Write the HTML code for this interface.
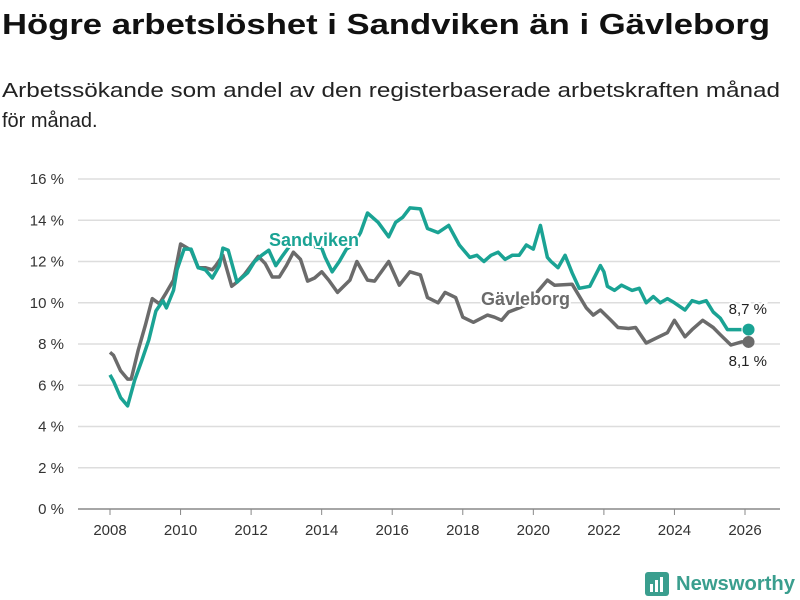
<!DOCTYPE html>
<html><head><meta charset="utf-8"><style>
body{margin:0;background:#fff;width:800px;height:600px;overflow:hidden;font-family:"Liberation Sans",sans-serif}
svg{display:block}
</style></head><body>
<svg id="chart" width="800" height="600" xmlns="http://www.w3.org/2000/svg" font-family="Liberation Sans, sans-serif">
<text x="2" y="34" font-size="29" font-weight="bold" fill="#111" textLength="768" lengthAdjust="spacingAndGlyphs">Högre arbetslöshet i Sandviken än i Gävleborg</text>
<text x="2" y="97" font-size="20" fill="#222" textLength="778" lengthAdjust="spacingAndGlyphs">Arbetssökande som andel av den registerbaserade arbetskraften månad</text>
<text x="2" y="127" font-size="20" fill="#222">för månad.</text>
<g id="grid"></g><g id="lines"></g><g id="labels"></g>
<g>
<rect x="645" y="572" width="24" height="24" rx="3" fill="#3a9e8e"/>
<rect x="650" y="584" width="3" height="8" fill="#fff"/><rect x="655" y="580" width="3" height="12" fill="#fff"/><rect x="660" y="577" width="3" height="15" fill="#fff"/>
<text x="676" y="590" font-size="20" font-weight="bold" fill="#3a9e8e" textLength="119" lengthAdjust="spacingAndGlyphs">Newsworthy</text>
</g>
</svg>
<script>
const yTicks=[0,2,4,6,8,10,12,14,16];
const xTicks=[2008,2010,2012,2014,2016,2018,2020,2022,2024,2026];
const sandDates=[2008.0,2008.1,2008.3,2008.5,2008.7,2008.9,2009.1,2009.3,2009.5,2009.6,2009.8,2009.9,2010.1,2010.3,2010.5,2010.7,2010.9,2011.1,2011.2,2011.35,2011.6,2011.9,2012.1,2012.3,2012.5,2012.7,2012.9,2013.2,2013.6,2014.0,2014.1,2014.3,2014.5,2014.7,2014.9,2015.1,2015.3,2015.6,2015.9,2016.1,2016.3,2016.5,2016.8,2017.0,2017.3,2017.6,2017.9,2018.2,2018.4,2018.6,2018.8,2019.0,2019.2,2019.4,2019.6,2019.8,2020.0,2020.2,2020.4,2020.5,2020.7,2020.9,2021.1,2021.3,2021.6,2021.9,2022.0,2022.1,2022.3,2022.5,2022.8,2023.0,2023.2,2023.4,2023.6,2023.8,2024.0,2024.3,2024.5,2024.7,2024.9,2025.1,2025.3,2025.5,2025.7,2025.9,2026.0,2026.1];
const sandValues=[6.5,6.2,5.4,5.0,6.25,7.2,8.2,9.6,10.1,9.75,10.6,11.6,12.6,12.6,11.7,11.6,11.2,11.8,12.65,12.55,11.0,11.45,12.0,12.3,12.55,11.8,12.3,13.0,12.8,12.65,12.2,11.5,12.0,12.6,12.8,13.4,14.35,13.9,13.2,13.9,14.15,14.6,14.55,13.6,13.4,13.75,12.8,12.2,12.3,12.0,12.3,12.45,12.1,12.3,12.3,12.8,12.6,13.75,12.2,12.0,11.7,12.3,11.45,10.7,10.8,11.8,11.5,10.8,10.6,10.85,10.6,10.7,10.0,10.3,10.0,10.2,10.0,9.65,10.1,10.0,10.1,9.55,9.25,8.7,8.7,8.7];
const gavDates=[2008.0,2008.1,2008.3,2008.5,2008.6,2008.8,2009.0,2009.2,2009.4,2009.6,2009.8,2010.0,2010.3,2010.5,2010.7,2010.9,2011.0,2011.2,2011.45,2011.6,2011.8,2012.0,2012.2,2012.4,2012.6,2012.8,2013.0,2013.2,2013.4,2013.6,2013.8,2014.0,2014.2,2014.45,2014.8,2015.0,2015.3,2015.5,2015.9,2016.2,2016.5,2016.8,2017.0,2017.3,2017.5,2017.8,2018.0,2018.3,2018.7,2018.9,2019.1,2019.3,2019.6,2019.8,2020.4,2020.6,2021.1,2021.5,2021.7,2021.9,2022.2,2022.4,2022.7,2022.9,2023.2,2023.5,2023.8,2024.0,2024.3,2024.5,2024.8,2025.1,2025.3,2025.6,2025.9,2026.1];
const gavValues=[7.6,7.45,6.7,6.3,6.3,7.7,8.9,10.2,9.95,10.5,11.1,12.85,12.55,11.7,11.7,11.6,11.8,12.3,10.8,11.0,11.35,11.8,12.25,11.9,11.25,11.25,11.8,12.45,12.1,11.05,11.2,11.5,11.1,10.5,11.1,12.0,11.1,11.05,12.0,10.85,11.5,11.35,10.25,10.0,10.5,10.25,9.3,9.05,9.4,9.3,9.15,9.55,9.75,9.9,11.1,10.85,10.9,9.75,9.4,9.65,9.15,8.8,8.75,8.8,8.05,8.3,8.55,9.15,8.35,8.7,9.15,8.8,8.45,7.95,8.1,8.1];
const NS="http://www.w3.org/2000/svg";
const X0=110,X1=745,Y0=509,Y1=179;
const xs=v=>X0+(v-2008)/(2026-2008)*(X1-X0);
const ys=v=>Y0-(v/16)*(Y0-Y1);
function mk(tag,attrs,parent){const e=document.createElementNS(NS,tag);for(const k in attrs)e.setAttribute(k,attrs[k]);parent.appendChild(e);return e;}
const grid=document.getElementById('grid'),lines=document.getElementById('lines'),labels=document.getElementById('labels');
yTicks.forEach(t=>{
 const l=mk('line',{x1:78,x2:780,y1:ys(t),y2:ys(t),stroke:t===0?'#888':'#ddd','stroke-width':t===0?1.5:1.5},grid);
 
 
 const tx=mk('text',{x:64,y:ys(t)+5,'text-anchor':'end','font-size':15,fill:'#333'},grid);
 tx.textContent=t+' %';
 
 
});
xTicks.forEach(t=>{
 const l=mk('line',{x1:xs(t),x2:xs(t),y1:509,y2:515,stroke:'#888','stroke-width':1},grid);
 
 
 const tx=mk('text',{x:xs(t),y:535,'text-anchor':'middle','font-size':15,fill:'#333'},grid);
 tx.textContent=t;
 
 
});
function series(d,v,color,name){
 const p=mk('path',{d:d.map((x,i)=>(i?'L':'M')+xs(x).toFixed(1)+','+ys(v[i]).toFixed(1)).join(''),fill:'none',stroke:color,'stroke-width':3.5,'stroke-linejoin':'round'},lines);
 
 
 const c=mk('circle',{cx:xs(d[d.length-1]),cy:ys(v[v.length-1]),r:6,fill:color},lines);
 
 
}
series(gavDates,gavValues,'#6b6b6b','gavleborg');
series(sandDates,sandValues,'#1aa394','sandviken');
function lab(x,y,txt,color,name,size,bold,anchor){
 const t=mk('text',{x:x,y:y,'font-size':size,'font-weight':bold?'bold':'normal',fill:color,stroke:'#fff','stroke-width':4,'paint-order':'stroke','text-anchor':anchor||'start'},labels);
 t.textContent=txt;
 
 
}
lab(269,246,'Sandviken','#1aa394','sandviken-label',18,true);
lab(481,305,'Gävleborg','#6b6b6b','gavleborg-label',18,true);
lab(767,314,'8,7 %','#222','sandviken-end-value',15,false,'end');
lab(767,366,'8,1 %','#222','gavleborg-end-value',15,false,'end');
</script>
</body></html>
